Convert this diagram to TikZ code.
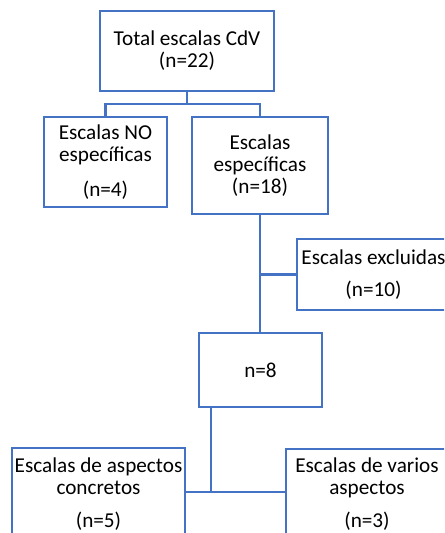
\documentclass[tikz,border=0pt]{standalone}
\usepackage{fontspec}
\setmainfont{Carlito}
\definecolor{boxblue}{RGB}{68,114,196}
\tikzset{
	box/.style={draw=boxblue, line width=1.4pt, fill=white, align=center,
		inner sep=0pt, font=\fontsize{10.6}{11}\selectfont},
	link/.style={draw=boxblue, line width=1.4pt}
}

\begin{document}
\begin{tikzpicture}[x=0.5pt,y=-0.5pt]
	\useasboundingbox (0,0) rectangle (444,533);
	\clip (0,0) rectangle (444,533);
	\node[box, minimum width=87pt, minimum height=40pt] (total) at (187,51)
		{Total escalas CdV\\(n=22)};
	\node[box, minimum width=61.5pt, minimum height=45pt] (noesp) at (105.5,162)
		{Escalas NO\\espec\'ificas\\[6.5pt](n=4)};
	\node[box, minimum width=68pt, minimum height=48.5pt] (esp) at (260,165.5)
		{Escalas\\espec\'ificas\\(n=18)};
	\node[box, minimum width=76.5pt, minimum height=35.5pt] (excl) at (373.5,274.5)
		{Escalas excluidas\\[5pt](n=10)};
	\node[box, minimum width=61.5pt, minimum height=37pt] (n8) at (260.5,370)
		{n=8};
	\node[box, minimum width=86.5pt, minimum height=46pt] (concretos) at (98.5,494)
		{Escalas de aspectos\\concretos\\[5.5pt](n=5)};
	\node[box, minimum width=81pt, minimum height=45.5pt] (varios) at (367,494.5)
		{Escalas de varios\\aspectos\\[5.5pt](n=3)};
	\coordinate (split1) at (187,104);
	\coordinate (split2) at (211,492);
	\draw[link] (total.south) -- (split1);
	\draw[link] (split1) -| (noesp.north);
	\draw[link] (split1) -| (esp.north);
	\draw[link] (esp.south) -- (esp.south |- n8.north);
	\draw[link] (esp.south |- excl.west) -- (excl.west);
	\draw[link] (n8.south -| split2) -- (split2);
	\draw[link] (concretos.east |- split2) -- (varios.west |- split2);
\end{tikzpicture}
\end{document}
